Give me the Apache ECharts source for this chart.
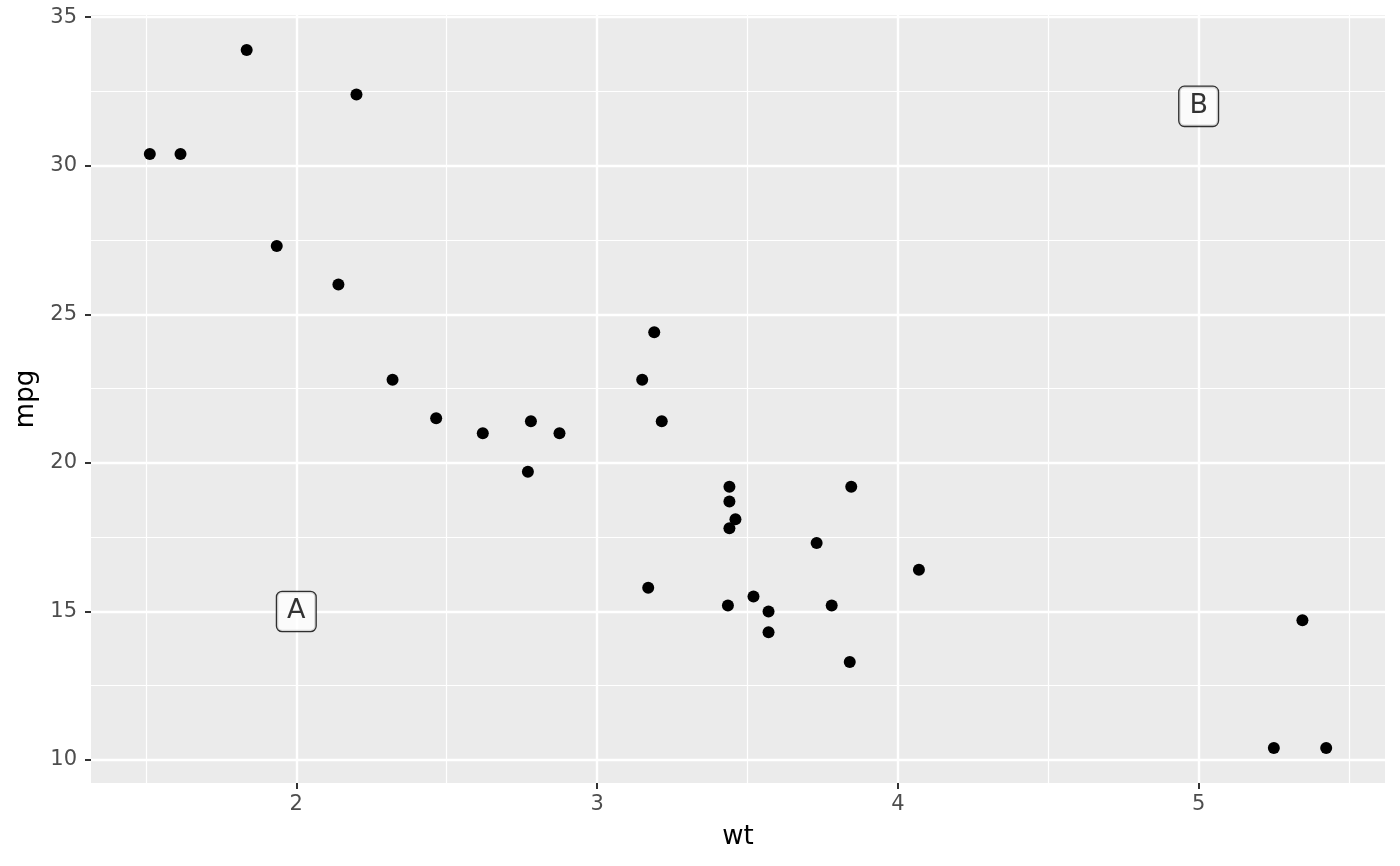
<!DOCTYPE html>
<html>
<head>
<meta charset="utf-8">
<script src="https://cdn.jsdelivr.net/npm/echarts@6/dist/echarts.min.js"></script>
<style>
html, body { margin: 0; padding: 0; background: #fff; }
#main { width: 1400px; height: 866px; }
</style>
</head>
<body>
<div id="main"></div>
<script>
// mtcars: wt / mpg
var carWt = [2.620, 2.875, 2.320, 3.215, 3.440, 3.460, 3.570, 3.190, 3.150, 3.440, 3.440,
    4.070, 3.730, 3.780, 5.250, 5.424, 5.345, 2.200, 1.615, 1.835, 2.465, 3.520,
    3.435, 3.840, 3.845, 1.935, 2.140, 1.513, 3.170, 2.770, 3.570, 2.780];
var carMpg = [21.0, 21.0, 22.8, 21.4, 18.7, 18.1, 14.3, 24.4, 22.8, 19.2, 17.8,
    16.4, 17.3, 15.2, 10.4, 10.4, 14.7, 32.4, 30.4, 33.9, 21.5, 15.5,
    15.2, 13.3, 19.2, 27.3, 26.0, 30.4, 15.8, 19.7, 15.0, 21.4];
// annotate("label")
var labelText = ['A', 'B'];
var labelX = [2, 5];
var labelY = [15, 32];
// ticks
var xTicks = [2, 3, 4, 5];
var xMinor = [1.5, 2.5, 3.5, 4.5, 5.5];
var yTicks = [10, 15, 20, 25, 30, 35];
var yMinor = [12.5, 17.5, 22.5, 27.5, 32.5];

var FONT = 'DejaVu Sans';

// 5% expand like ggplot
function expand(arr, extra) {
    var lo = Math.min.apply(null, arr.concat(extra)), hi = Math.max.apply(null, arr.concat(extra));
    var d = (hi - lo) * 0.05;
    return [lo - d, hi + d];
}
var xr = expand(carWt, labelX);
var yr = expand(carMpg, labelY);

var pts = carWt.map(function (w, i) { return [w, carMpg[i]]; });
var lbls = labelX.map(function (x, i) { return { value: [x, labelY[i]], name: labelText[i] }; });

function gridLines(vals, key, width) {
    return vals.map(function (v) {
        var o = { lineStyle: { width: width } };
        o[key] = v;
        return o;
    });
}

var myChart = echarts.init(document.getElementById('main'));
var option = {
    animation: false,
    grid: {
        left: 91, right: 15, top: 15, bottom: 83,
        show: true, backgroundColor: '#EBEBEB', borderWidth: 0
    },
    xAxis: {
        type: 'value', min: xr[0], max: xr[1],
        name: 'wt', nameLocation: 'middle', nameGap: 41,
        nameTextStyle: { color: '#000', fontSize: 26, fontFamily: FONT },
        axisLine: { show: false },
        splitLine: { show: false },
        axisTick: { show: true, customValues: xTicks, length: 6, lineStyle: { color: '#333', width: 2 } },
        axisLabel: { customValues: xTicks, color: '#4D4D4D', fontSize: 21, fontFamily: FONT, margin: 11 }
    },
    yAxis: {
        type: 'value', min: yr[0], max: yr[1],
        name: 'mpg', nameLocation: 'middle', nameGap: 47,
        nameTextStyle: { color: '#000', fontSize: 26, fontFamily: FONT },
        axisLine: { show: false },
        splitLine: { show: false },
        axisTick: { show: true, customValues: yTicks, length: 6, lineStyle: { color: '#333', width: 2 } },
        axisLabel: { customValues: yTicks, color: '#4D4D4D', fontSize: 21, fontFamily: FONT, margin: 14 }
    },
    series: [{
        // panel grid lines
        type: 'scatter', data: [], z: 1, silent: true,
        markLine: {
            z: 1, silent: true, symbol: 'none', label: { show: false }, animation: false,
            lineStyle: { color: '#fff', type: 'solid' },
            data: gridLines(xMinor, 'xAxis', 1.2).concat(gridLines(yMinor, 'yAxis', 1.2))
                .concat(gridLines(xTicks, 'xAxis', 2.4)).concat(gridLines(yTicks, 'yAxis', 2.4))
        }
    }, {
        type: 'scatter', data: pts, z: 3,
        symbolSize: 12,
        itemStyle: { color: '#000', opacity: 1 }
    }, {
        type: 'scatter', data: lbls, z: 10,
        symbolSize: 1,
        itemStyle: { color: 'transparent' },
        label: {
            show: true, position: 'inside',
            formatter: function (p) { return p.name; },
            color: '#000', fontSize: 27, fontFamily: FONT, lineHeight: 27,
            backgroundColor: '#fff', borderColor: '#000', borderWidth: 1.3, borderRadius: 5,
            padding: [6, 10, 6, 10]
        }
    }]
};
myChart.setOption(option);
</script>
</body>
</html>
